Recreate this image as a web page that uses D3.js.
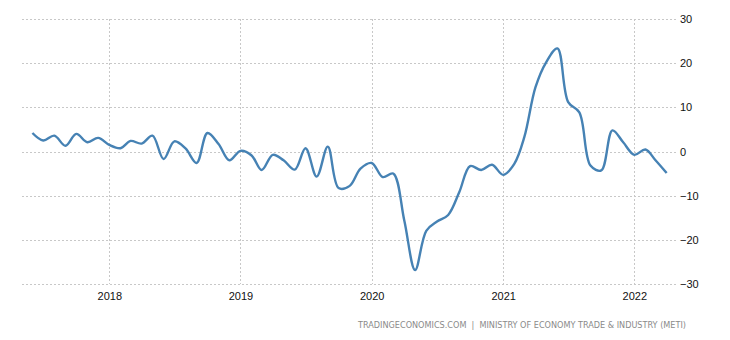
<!DOCTYPE html>
<html>
<head>
<meta charset="utf-8">
<script src="https://cdn.jsdelivr.net/npm/d3@7"></script>
<style>
  html, body { margin: 0; padding: 0; background: #fff; }
  svg { display: block; }
</style>
</head>
<body>
<svg id="chart" width="730" height="340"></svg>
<script>
// Monthly year-over-year change, Jun 2017 – Apr 2022 (percent)
const startMonth = "2017-06";
const values = [
  4.2, 2.5, 3.6, 1.3, 4.0, 2.1, 3.1,            // Jun–Dec 2017
  1.5, 0.75, 2.4, 1.8, 3.6, -1.7, 2.3, 0.7, -2.6, 4.2, 1.7, -2.0,   // 2018
  0.15, -0.9, -4.2, -0.75, -2.0, -4.1, 0.75, -5.7, 1.1, -8.3, -7.8, -3.9, // 2019
  -2.6, -5.8, -5.0, -15.7, -26.9, -18.0, -15.9, -14.4, -9.2, -3.3, -4.2, -3.0, // 2020
  -5.3, -2.8, 3.3, 14.6, 20.3, 23.4, 11.2, 8.9, -3.2, -4.3, 4.8, 2.1, // 2021
  -0.75, 0.45, -2.0, -4.9                        // Jan–Apr 2022
];
const yearTicks = [2018, 2019, 2020, 2021, 2022];
const valueTicks = [-30, -20, -10, 0, 10, 20, 30];
const sourceText = "TRADINGECONOMICS.COM  |  MINISTRY OF ECONOMY TRADE & INDUSTRY (METI)";

const parseMonth = d3.timeParse("%Y-%m");
const t0 = parseMonth(startMonth);
const data = values.map((v, i) => ({ date: d3.timeMonth.offset(t0, i), value: v }));

const svg = d3.select("#chart");
const plotLeft = 22, plotRight = 676, plotTop = 19.3, plotBottom = 283.7;

const x = d3.scaleTime()
  .domain([new Date(2017, 4, 3), new Date(2022, 3, 27)])
  .range([plotLeft, plotRight]);
const y = d3.scaleLinear().domain([-30, 30]).range([plotBottom, plotTop]);

// grid
const grid = svg.append("g").attr("stroke", "#c8c8c8").attr("stroke-width", 1)
  .attr("stroke-dasharray", "2,2").attr("shape-rendering", "crispEdges");
grid.selectAll("line.h").data(valueTicks).join("line")
  .attr("class", "h")
  .attr("x1", plotLeft).attr("x2", plotRight)
  .attr("y1", d => Math.round(y(d)) + 0.5).attr("y2", d => Math.round(y(d)) + 0.5);
grid.selectAll("line.v").data(yearTicks).join("line")
  .attr("class", "v")
  .attr("x1", d => Math.round(x(new Date(d, 0, 1))) + 0.5)
  .attr("x2", d => Math.round(x(new Date(d, 0, 1))) + 0.5)
  .attr("y1", plotTop).attr("y2", plotBottom);

// axes
const xAxis = d3.axisBottom(x)
  .tickValues(yearTicks.map(d => new Date(d, 0, 1)))
  .tickFormat(d3.timeFormat("%Y"))
  .tickSize(0).tickPadding(9);
const gx = svg.append("g").attr("transform", `translate(0,${plotBottom})`).call(xAxis);
gx.select(".domain").remove();
gx.selectAll("text").attr("font-family", "Liberation Sans, Arial, sans-serif")
  .attr("font-size", 11).attr("fill", "#111");

const yAxis = d3.axisRight(y).tickValues(valueTicks).tickSize(0).tickPadding(4);
const gy = svg.append("g").attr("transform", `translate(${plotRight},0)`).call(yAxis);
gy.select(".domain").remove();
gy.selectAll("text").attr("font-family", "Liberation Sans, Arial, sans-serif")
  .attr("font-size", 11).attr("fill", "#111");

// series line
const line = d3.line()
  .x(d => x(d.date))
  .y(d => y(d.value))
  .curve(d3.curveCatmullRom.alpha(0.5));
svg.append("path").datum(data)
  .attr("fill", "none")
  .attr("stroke", "#4682b4")
  .attr("stroke-width", 2.4)
  .attr("stroke-linejoin", "round")
  .attr("d", line);

// source note
svg.append("text")
  .attr("x", 686).attr("y", 328)
  .attr("text-anchor", "end")
  .attr("font-family", "DejaVu Sans, sans-serif")
  .attr("font-size", 8)
  .attr("fill", "#8a8a8a")
  .attr("textLength", 328)
  .attr("lengthAdjust", "spacingAndGlyphs")
  .style("white-space", "pre")
  .text(sourceText);
</script>
</body>
</html>
